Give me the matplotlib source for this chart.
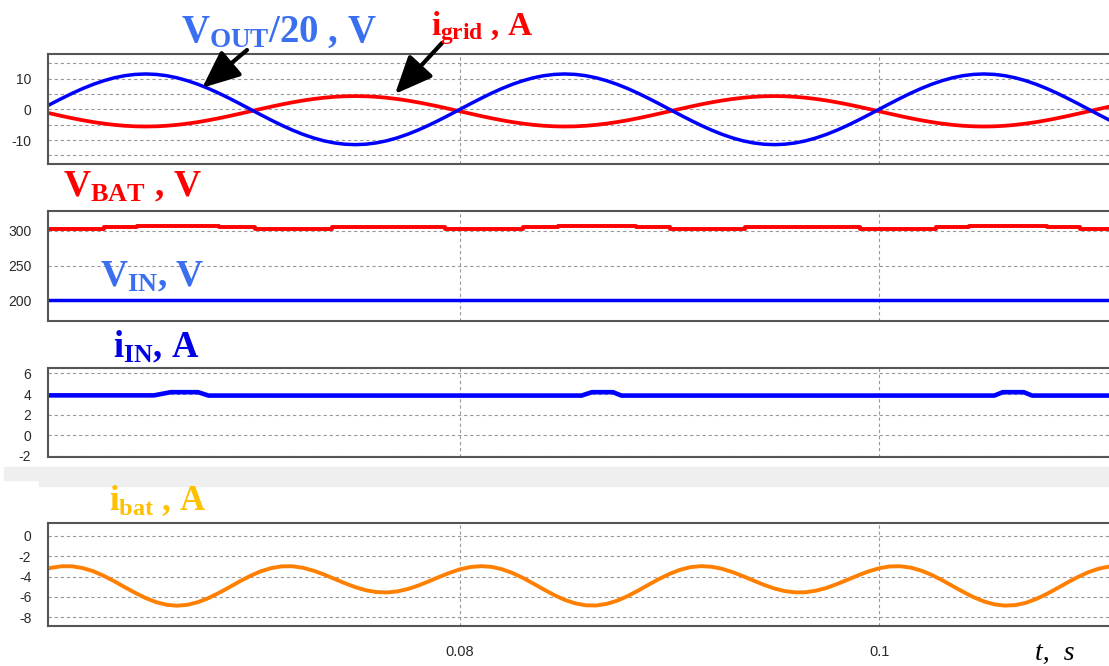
import numpy as np
import matplotlib
matplotlib.use("Agg")
import matplotlib.pyplot as plt
from matplotlib.patches import Rectangle

plt.rcParams['font.family'] = ['Liberation Sans', 'DejaVu Sans']
plt.rcParams['axes.unicode_minus'] = False
plt.rcParams['mathtext.fontset'] = 'custom'
plt.rcParams['mathtext.rm'] = 'Liberation Serif:bold'
plt.rcParams['mathtext.it'] = 'Liberation Serif:bold'
plt.rcParams['mathtext.bf'] = 'Liberation Serif:bold'

W, H = 1109, 666

# sample times, 0.5 ms apart
t = np.round(np.arange(0.0600, 0.11105, 0.0005), 4)

# output voltage / 20
v_out = [0, 1.80, 3.55, 5.22, 6.76, 8.13, 9.30, 10.25, 10.94, 11.36,
         11.50, 11.36, 10.94, 10.25, 9.30, 8.13, 6.76, 5.22, 3.55, 1.80,
         0, -1.80, -3.55, -5.22, -6.76, -8.13, -9.30, -10.25, -10.94, -11.36,
         -11.50, -11.36, -10.94, -10.25, -9.30, -8.13, -6.76, -5.22, -3.55, -1.80,
         0, 1.80, 3.55, 5.22, 6.76, 8.13, 9.30, 10.25, 10.94, 11.36,
         11.50, 11.36, 10.94, 10.25, 9.30, 8.13, 6.76, 5.22, 3.55, 1.80,
         0, -1.80, -3.55, -5.22, -6.76, -8.13, -9.30, -10.25, -10.94, -11.36,
         -11.50, -11.36, -10.94, -10.25, -9.30, -8.13, -6.76, -5.22, -3.55, -1.80,
         0, 1.80, 3.55, 5.22, 6.76, 8.13, 9.30, 10.25, 10.94, 11.36,
         11.50, 11.36, 10.94, 10.25, 9.30, 8.13, 6.76, 5.22, 3.55, 1.80,
         0, -1.80, -3.55]

# grid current
i_grid = [-0.65, -1.42, -2.18, -2.90, -3.56, -4.15, -4.65, -5.06, -5.36, -5.54,
          -5.60, -5.54, -5.36, -5.06, -4.65, -4.15, -3.56, -2.90, -2.18, -1.42,
          -0.65, 0.12, 0.88, 1.60, 2.26, 2.85, 3.35, 3.76, 4.06, 4.24,
          4.30, 4.24, 4.06, 3.76, 3.35, 2.85, 2.26, 1.60, 0.88, 0.12,
          -0.65, -1.42, -2.18, -2.90, -3.56, -4.15, -4.65, -5.06, -5.36, -5.54,
          -5.60, -5.54, -5.36, -5.06, -4.65, -4.15, -3.56, -2.90, -2.18, -1.42,
          -0.65, 0.12, 0.88, 1.60, 2.26, 2.85, 3.35, 3.76, 4.06, 4.24,
          4.30, 4.24, 4.06, 3.76, 3.35, 2.85, 2.26, 1.60, 0.88, 0.12,
          -0.65, -1.42, -2.18, -2.90, -3.56, -4.15, -4.65, -5.06, -5.36, -5.54,
          -5.60, -5.54, -5.36, -5.06, -4.65, -4.15, -3.56, -2.90, -2.18, -1.42,
          -0.65, 0.12, 0.88]

# battery voltage (stepped) and input voltage
vbat_t = [0.0600, 0.0630, 0.0646, 0.0685, 0.0702, 0.0739, 0.0793, 0.0830, 0.0847,
          0.0884, 0.0900, 0.0936, 0.0991, 0.1027, 0.1043, 0.1080, 0.1096, 0.1110]
vbat = [302, 305, 307, 305, 302, 305, 302, 305, 307,
        305, 302, 305, 302, 305, 307, 305, 302, 302]
vin_t = [0.060, 0.111]
vin = [200, 200]

# input current
iin_t = [0.0600, 0.0654, 0.0662, 0.0675, 0.0680, 0.0858, 0.0863, 0.0873, 0.0877,
         0.1055, 0.1059, 0.1069, 0.1073, 0.1110]
i_in = [3.87, 3.87, 4.18, 4.18, 3.85, 3.85, 4.18, 4.18, 3.85,
        3.85, 4.18, 4.18, 3.85, 3.85]

# battery current
i_bat = [-3.42, -3.14, -2.99, -3.00, -3.17, -3.48, -3.93, -4.46, -5.04, -5.60,
         -6.11, -6.51, -6.77, -6.86, -6.77, -6.51, -6.11, -5.60, -5.04, -4.46,
         -3.93, -3.48, -3.17, -3.00, -2.99, -3.14, -3.42, -3.79, -4.22, -4.65,
         -5.04, -5.34, -5.52, -5.56, -5.46, -5.23, -4.89, -4.48, -4.05, -3.64,
         -3.29, -3.07, -2.98, -3.05, -3.28, -3.65, -4.13, -4.69, -5.27, -5.82,
         -6.29, -6.63, -6.82, -6.84, -6.68, -6.37, -5.92, -5.38, -4.80, -4.24,
         -3.74, -3.34, -3.08, -2.98, -3.04, -3.24, -3.56, -3.96, -4.39, -4.81,
         -5.17, -5.43, -5.55, -5.54, -5.38, -5.11, -4.73, -4.31, -3.88, -3.49,
         -3.19, -3.01, -2.99, -3.12, -3.41, -3.83, -4.35, -4.92, -5.49, -6.02,
         -6.44, -6.73, -6.85, -6.80, -6.58, -6.20, -5.71, -5.15, -4.57, -4.03,
         -3.56, -3.22, -3.02]

x_ticks = [0.08, 0.1]
x_tick_labels = ['0.08', '0.1']

fig = plt.figure(figsize=(W / 100, H / 100), dpi=100)

# light grey strip between the third and fourth panels
fig.patches.append(Rectangle((4 / W, 1 - 480 / H), (W - 4) / W, 13 / H,
                             transform=fig.transFigure, color='#efefef', zorder=0))
fig.patches.append(Rectangle((39 / W, 1 - 486 / H), (W - 39) / W, 7 / H,
                             transform=fig.transFigure, color='#efefef', zorder=0))


def panel(top, bottom, ylim):
    ax = fig.add_axes([48 / W, 1 - bottom / H, (W - 48) / W, (bottom - top) / H])
    ax.set_xlim(0.06034, 0.11097)
    ax.set_ylim(*ylim)
    ax.set_axisbelow(True)
    ax.spines['right'].set_visible(False)
    for s in ('left', 'top', 'bottom'):
        ax.spines[s].set_color('#555555')
        ax.spines[s].set_linewidth(1.5)
    ax.set_xticks(x_ticks)
    ax.tick_params(length=0, labelsize=10, pad=12, colors='#2a2a2a', which='both')
    ax.tick_params(axis='x', labelbottom=False)
    ax.grid(True, which='both', color='#999999', linestyle=(0, (3, 2.5)), linewidth=0.8)
    return ax


ax1 = panel(54, 164, (-17.8, 18.0))
ax1.set_yticks([-10, 0, 10])
ax1.set_yticks([-15, -5, 5, 15], minor=True)
ax1.plot(t, i_grid, color='#ff0000', lw=2.7)
ax1.plot(t, v_out, color='#0000ff', lw=2.5)

ax2 = panel(210.7, 320.7, (170.9, 328.6))
ax2.set_yticks([200, 250, 300])
ax2.plot(vbat_t, vbat, color='#ff0000', lw=2.8, drawstyle='steps-post')
ax2.plot(vin_t, vin, color='#0000ff', lw=2.5)

ax3 = panel(367.7, 457, (-2.1, 6.55))
ax3.set_yticks([-2, 0, 2, 4, 6])
ax3.plot(iin_t, i_in, color='#0000ff', lw=3.3)

ax4 = panel(523.3, 626, (-8.85, 1.22))
ax4.set_yticks([-8, -6, -4, -2, 0])
ax4.tick_params(axis='x', labelbottom=True, pad=14, labelsize=10.5)
ax4.set_xticklabels(x_tick_labels)
ax4.plot(t, i_bat, color='#ff8000', lw=2.8)

# arrows pointing from the labels to the traces
arrow = dict(arrowstyle='-|>,head_length=1.15,head_width=0.5', color='black',
             lw=3, shrinkA=0, shrinkB=0, mutation_scale=20)
ax1.annotate('', xy=(0.0677, 7.0), xycoords='data',
             xytext=(247, H - 50), textcoords='figure pixels', arrowprops=arrow)
ax1.annotate('', xy=(0.0769, 5.0), xycoords='data',
             xytext=(442, H - 43), textcoords='figure pixels', arrowprops=arrow)


def label(x, y, s, size, color):
    fig.text(x / W, 1 - y / H, s, ha='left', va='baseline', fontsize=size, color=color,
             family='Liberation Serif', weight='bold')


label(181, 42, r'$V_{OUT}$/20 , V', 28, '#3a6ff0')
label(431, 35, r'$i_{grid}$ , A', 24, '#ff0000')
label(63, 196, r'$V_{BAT}$ , V', 27, '#ff0000')
label(100, 286, r'$V_{IN}$, V', 27, '#3a6ff0')
label(113, 357, r'$i_{IN}$, A', 26.5, '#0000e6')
label(109, 510, r'$i_{bat}$ , A', 25, '#ffc000')

fig.text(1035 / W, 1 - 660 / H, 't,  s', ha='left', va='baseline', fontsize=20,
         family='Liberation Serif', style='italic', color='black')

fig.savefig('out.png', dpi=100)
